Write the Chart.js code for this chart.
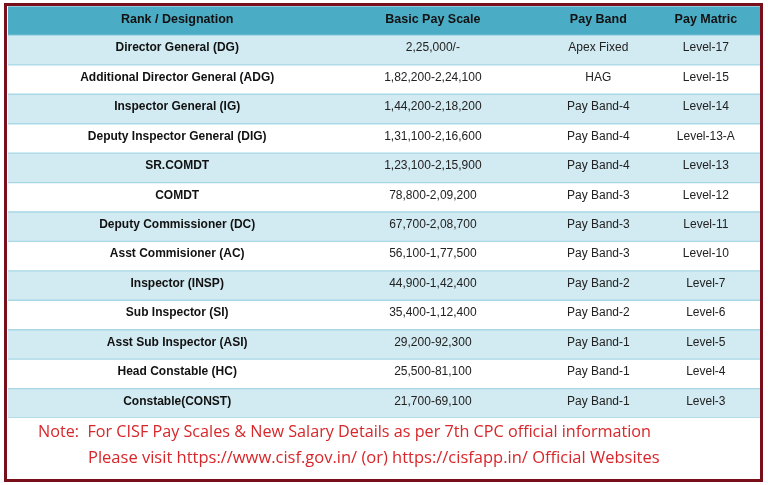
<!DOCTYPE html>
<html>
<head>
<meta charset="utf-8">
<script src="https://cdn.jsdelivr.net/npm/chart.js@4"></script>
<style>
  body { margin: 0; background: #fff; }
  #wrap { width: 768px; height: 485px; }
</style>
</head>
<body>
<div id="wrap"><canvas id="pay-table" width="768" height="485"></canvas></div>
<script>
// table data
const headers = ["Rank / Designation", "Basic Pay Scale", "Pay Band", "Pay Matric"];
const ranks = ["Director General (DG)", "Additional Director General (ADG)", "Inspector General (IG)",
  "Deputy Inspector General (DIG)", "SR.COMDT", "COMDT", "Deputy Commissioner (DC)",
  "Asst Commisioner (AC)", "Inspector (INSP)", "Sub Inspector (SI)", "Asst Sub Inspector (ASI)",
  "Head Constable (HC)", "Constable(CONST)"];
const payScales = ["2,25,000/-", "1,82,200-2,24,100", "1,44,200-2,18,200", "1,31,100-2,16,600",
  "1,23,100-2,15,900", "78,800-2,09,200", "67,700-2,08,700", "56,100-1,77,500", "44,900-1,42,400",
  "35,400-1,12,400", "29,200-92,300", "25,500-81,100", "21,700-69,100"];
const payBands = ["Apex Fixed", "HAG", "Pay Band-4", "Pay Band-4", "Pay Band-4", "Pay Band-3",
  "Pay Band-3", "Pay Band-3", "Pay Band-2", "Pay Band-2", "Pay Band-1", "Pay Band-1", "Pay Band-1"];
const payLevels = ["Level-17", "Level-15", "Level-14", "Level-13-A", "Level-13", "Level-12",
  "Level-11", "Level-10", "Level-7", "Level-6", "Level-5", "Level-4", "Level-3"];
const noteLines = [
  "Note:  For CISF Pay Scales & New Salary Details as per 7th CPC official information",
  "Please visit https://www.cisf.gov.in/ (or) https://cisfapp.in/ Official Websites"
];

// column centres on a 0-100 scale
const colCenters = [22.5, 56.5, 78.5, 92.8];

const rowLabels = ["header"].concat(ranks);
const columns = [ranks, payScales, payBands, payLevels];

const rowColors = rowLabels.map((r, i) => i === 0 ? '#4BACC6' : (i % 2 === 1 ? '#D2EAF1' : '#ffffff'));

const tableText = {
  id: 'tableText',
  afterDatasetsDraw(chart) {
    const ctx = chart.ctx;
    const x = chart.scales.x;
    const y = chart.scales.y;
    ctx.save();
    ctx.textAlign = 'center';
    ctx.textBaseline = 'middle';
    ctx.fillStyle = '#111';
    ctx.font = 'bold 12.5px "Liberation Sans", Arial';
    headers.forEach((h, c) => ctx.fillText(h, x.getPixelForValue(colCenters[c]), y.getPixelForValue(0) - 1));
    columns.forEach((col, c) => {
      ctx.font = (c === 0 ? 'bold ' : '') + '12px "Liberation Sans", Arial';
      ctx.fillStyle = c === 0 ? '#111' : '#222';
      col.forEach((txt, i) => ctx.fillText(txt, x.getPixelForValue(colCenters[c]), y.getPixelForValue(i + 1) - 2));
    });
    // note
    ctx.textAlign = 'left';
    ctx.fillStyle = '#D8262A';
    ctx.font = '16.5px "Open Sans", "Noto Sans", sans-serif';
    ctx.fillText(noteLines[0], 38, 432, 613);
    ctx.fillText(noteLines[1], 88, 458, 574);
    // outer frame
    ctx.strokeStyle = '#7A0F1C';
    ctx.lineWidth = 3;
    ctx.strokeRect(5.5, 4.5, 756, 476);
    ctx.restore();
  }
};

new Chart(document.getElementById('pay-table'), {
  type: 'bar',
  data: {
    labels: rowLabels,
    datasets: [{
      data: rowLabels.map(() => [0, 100]),
      backgroundColor: rowColors,
      borderColor: '#A8D8E6',
      borderWidth: { top: 1, bottom: 1, left: 0, right: 0 },
      borderSkipped: false,
      barPercentage: 1,
      categoryPercentage: 1
    }]
  },
  options: {
    indexAxis: 'y',
    responsive: false,
    animation: false,
    layout: { padding: { left: 8, right: 8, top: 6, bottom: 67 } },
    scales: {
      x: { display: false, min: 0, max: 100 },
      y: { display: false }
    },
    plugins: { legend: { display: false }, tooltip: { enabled: false } }
  },
  plugins: [tableText]
});
</script>
</body>
</html>
